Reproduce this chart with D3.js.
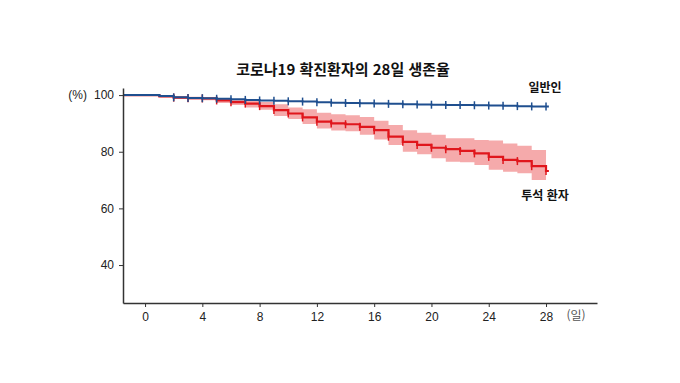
<!DOCTYPE html>
<html lang="ko">
<head>
<meta charset="utf-8">
<title>코로나19 확진환자의 28일 생존율</title>
<script src="https://cdn.jsdelivr.net/npm/d3@7"></script>
<style>
  body { margin: 0; background: #fff; }
  text { font-family: "Liberation Sans", Arial, sans-serif; }
  .kr { font-family: "Noto Sans CJK KR", sans-serif; }
</style>
</head>
<body>
<script>
// days with an event / censor mark
var days = [0,1,2,3,4,5,6,7,8,9,10,11,12,13,14,15,16,17,18,19,20,21,22,23,24,25,26,27,28];
// 일반인 (general population) survival %
var general = [100,99.7,99.2,99.0,98.9,98.7,98.5,98.3,98.1,98.0,97.8,97.7,97.5,97.3,97.2,97.1,97.0,96.9,96.8,96.7,96.6,96.5,96.5,96.4,96.3,96.2,96.1,96.0,96.0];
// 투석 환자 (dialysis patients) survival % and 95% CI
var dialysis = [100,99.5,99.1,98.9,98.8,98.1,97.5,97.0,96.1,94.7,93.5,92.1,90.6,90.0,89.7,88.8,87.6,85.3,83.5,82.4,81.4,80.9,80.3,79.4,78.2,77.1,76.7,74.9,73.2];
var dialysisUpper = [100,99.7,99.5,99.4,99.3,98.9,98.5,98.1,97.6,96.8,95.6,95.0,93.8,93.2,92.9,92.3,90.9,89.4,87.6,86.7,86.0,84.8,84.8,84.1,84.0,82.9,82.1,80.6,80.6];
var dialysisLower = [100,99.2,98.7,98.4,98.2,97.2,96.5,95.6,94.8,92.6,91.6,89.8,88.2,87.5,87.2,86.0,84.3,82.4,80.0,79.1,77.7,76.5,76.3,75.3,73.6,72.9,72.4,70.0,70.0];
var censorDays = [2,3,4,5,6,7,8,9,10,11,12,13,14,15,16,17,18,19,20,21,22,23,24,25,26,27,28];
var xTicks = [0,4,8,12,16,20,24,28];
var yTicks = [40,60,80,100];

var w = 680, h = 383;
var blue = "#1f4f8f", red = "#e0161c", band = "#f5aaab";

var svg = d3.select("body").append("svg").attr("width", w).attr("height", h);

var x = d3.scaleLinear().domain([-1.54, 31.56]).range([123, 597]);
var y = d3.scaleLinear().domain([26.6, 102.5]).range([303, 88]);

function series(vals) {
  var pts = [{d: x.domain()[0], v: vals[0]}];
  days.forEach(function(d, i) { pts.push({d: d, v: vals[i]}); });
  return pts;
}

// confidence band
var bandPts = days.map(function(d, i) { return {d: d, lo: dialysisLower[i], hi: dialysisUpper[i]}; });
svg.append("path")
  .datum(bandPts)
  .attr("fill", band)
  .attr("d", d3.area().curve(d3.curveStepAfter)
    .x(function(p) { return x(p.d); })
    .y0(function(p) { return y(p.lo); })
    .y1(function(p) { return y(p.hi); }));

var line = d3.line().curve(d3.curveStepAfter)
  .x(function(p) { return x(p.d); })
  .y(function(p) { return y(p.v); });

function drawCurve(vals, color, sw) {
  var pts = series(vals);
  pts.push({d: 28.2, v: vals[vals.length - 1]});
  svg.append("path").datum(pts)
    .attr("fill", "none").attr("stroke", color).attr("stroke-width", sw)
    .attr("d", line);
  svg.append("g").selectAll("line")
    .data(censorDays).enter().append("line")
    .attr("x1", function(d) { return x(d); })
    .attr("x2", function(d) { return x(d); })
    .attr("y1", function(d) { return y(vals[days.indexOf(d)]) - 4; })
    .attr("y2", function(d) { return y(vals[days.indexOf(d)]) + 4; })
    .attr("stroke", color).attr("stroke-width", 1.5);
}
drawCurve(dialysis, red, 2.2);
drawCurve(general, blue, 2);

// axes
var xAxis = d3.axisBottom(x).tickValues(xTicks).tickSize(4).tickSizeOuter(0);
var gx = svg.append("g").attr("transform", "translate(0,303)").call(xAxis);
var yAxis = d3.axisLeft(y).tickValues(yTicks).tickSize(4).tickSizeOuter(0);
var gy = svg.append("g").attr("transform", "translate(123,0)").call(yAxis);
[gx, gy].forEach(function(g) {
  g.select(".domain").attr("stroke", "#333").attr("stroke-width", 1.5);
  g.selectAll(".tick line").attr("stroke", "#333");
  g.selectAll(".tick text").attr("fill", "#222").style("font-size", "12px")
    .style("font-family", "'Liberation Sans', Arial, sans-serif");
});
gx.selectAll(".tick text").attr("dy", "0.95em");
gy.selectAll(".tick text").attr("x", -9);

// labels
svg.append("text").attr("class", "kr").attr("x", 343).attr("y", 75)
  .attr("text-anchor", "middle").attr("font-weight", "bold").attr("font-size", 15)
  .attr("fill", "#111").text("코로나19 확진환자의 28일 생존율");
svg.append("text").attr("x", 87).attr("y", 99).attr("text-anchor", "end")
  .attr("font-size", 12).attr("fill", "#222").text("(%)");
svg.append("text").attr("class", "kr").attr("x", 576).attr("y", 320).attr("text-anchor", "middle")
  .attr("font-size", 12).attr("fill", "#555").text("(일)");
svg.append("text").attr("class", "kr").attr("x", 545).attr("y", 92).attr("text-anchor", "middle")
  .attr("font-weight", "bold").attr("font-size", 12).attr("fill", "#111").text("일반인");
svg.append("text").attr("class", "kr").attr("x", 545).attr("y", 200).attr("text-anchor", "middle")
  .attr("font-weight", "bold").attr("font-size", 12).attr("fill", "#111").text("투석 환자");
</script>
</body>
</html>
